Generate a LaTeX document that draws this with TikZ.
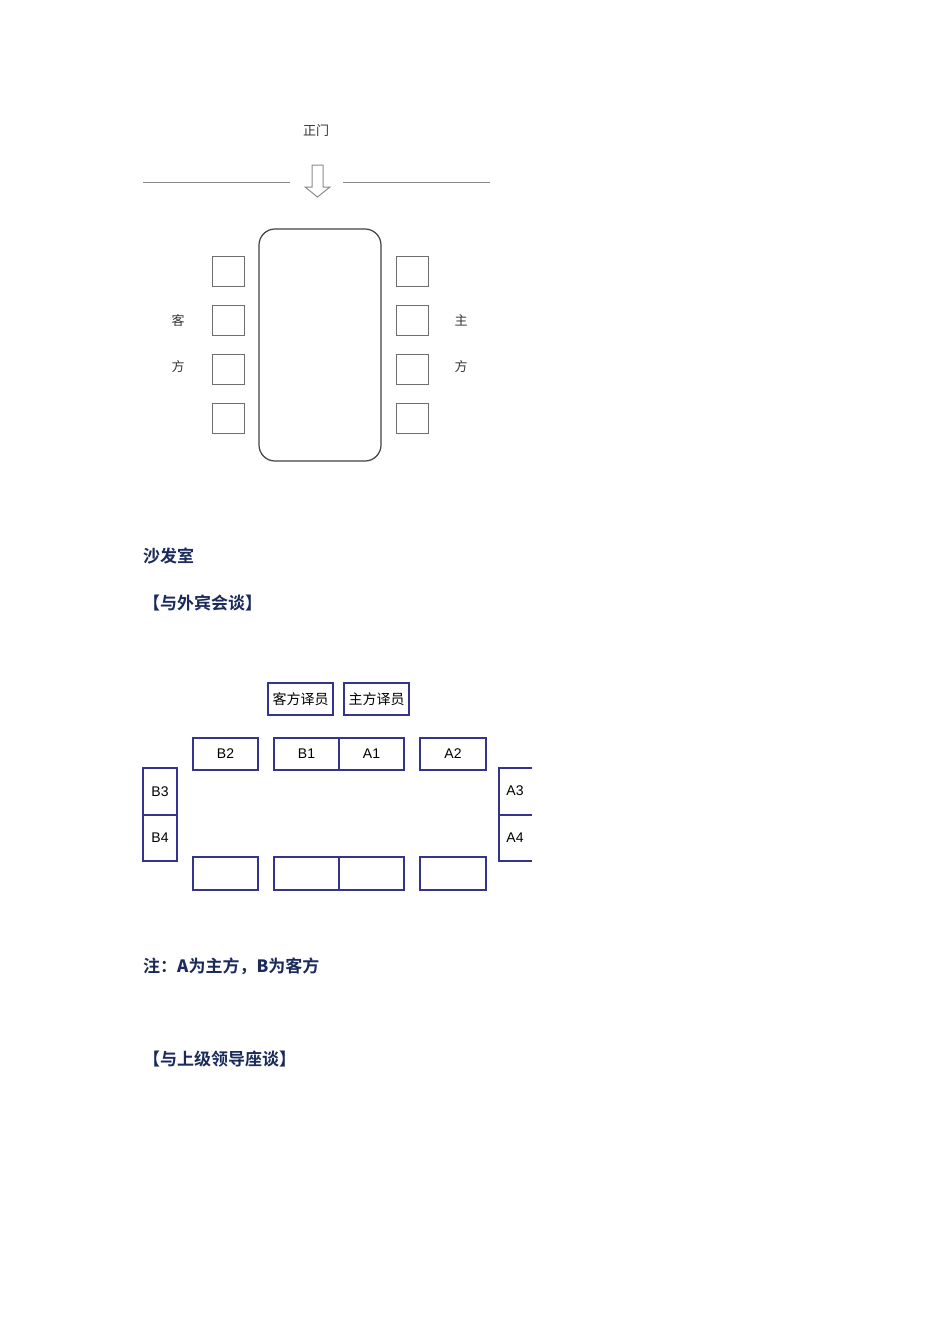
\documentclass[tikz,border=0pt]{standalone}
\usepackage{fontspec}
\setmainfont{Liberation Sans}
\newfontfamily\cjk{Noto Sans CJK SC}
\newfontfamily\cjkb{Noto Sans CJK SC Bold}
\definecolor{navy}{HTML}{1A2A5A}
\definecolor{seat}{HTML}{34348C}
\definecolor{gl}{HTML}{8A8A8A}
\begin{document}
\begin{tikzpicture}[x=1pt,y=-1pt,
  gline/.style={draw=gl,line width=1pt},
  chair/.style={draw=gl!80!black,line width=1pt},
  seatbox/.style={draw=seat,line width=1.2pt},
  seatlbl/.style={font=\fontsize{14}{14}\selectfont},
  small/.style={font=\cjk\fontsize{13}{13}\selectfont,text=black!80},
  hdr/.style={font=\cjkb\fontsize{17}{17}\selectfont,text=navy,anchor=west,inner sep=0}]
\useasboundingbox (0,0) rectangle (950,1344);
% top diagram
\node[small] (door) at (316,131) {正门};
\draw[gline] (143,182) -- (290,182);
\draw[gline] (343,182) -- (490,182);
\draw[gline,fill=white] (312,165) -- (323,165) -- (323,187) -- (330,187) -- (317.5,197) -- (305,187) -- (312,187) -- cycle;
\draw[draw=black!75,line width=1.2pt,rounded corners=16pt] (259,229) rectangle (381,461);
\foreach \y in {256,305,354,403}{
  \draw[chair] (212,\y) rectangle (244,\y+30);
  \draw[chair] (396,\y) rectangle (428,\y+30);
}
\node[small] (k1) at (178,320) {客};
\node[small] (k2) at (178,367) {方};
\node[small] (z1) at (461,320) {主};
\node[small] (z2) at (461,367) {方};
% headers
\node[hdr] (h1) at (143,556) {沙发室};
\node[hdr] (h2) at (143,603) {【与外宾会谈】};
\node[hdr] (h3) at (143,966) {注：\textbf{A}为主方，\textbf{B}为客方};
\node[hdr] (h4) at (143,1059) {【与上级领导座谈】};
% second diagram
\draw[seatbox] (268,683) rectangle (333,715);
\node[font=\cjk\fontsize{14}{14}\selectfont] (t1) at (300.5,699) {客方译员};
\draw[seatbox] (344,683) rectangle (409,715);
\node[font=\cjk\fontsize{14}{14}\selectfont] (t2) at (376.5,699) {主方译员};
\foreach \xa/\xb/\t in {193/258/B2,274/339/B1,339/404/A1,420/486/A2}{
  \draw[seatbox] (\xa,738) rectangle (\xb,770);
  \node[seatlbl] at ({(\xa+\xb)/2},754) {\t};
  \draw[seatbox] (\xa,857) rectangle (\xb,890);
}
\draw[seatbox] (143,768) rectangle (177,815);
\draw[seatbox] (143,815) rectangle (177,861);
\node[seatlbl] at (160,792) {B3};
\node[seatlbl] at (160,838) {B4};
\draw[seatbox] (532,768) -- (499,768) -- (499,861) -- (532,861);
\draw[seatbox] (499,815) -- (532,815);
\node[seatlbl] at (515,791) {A3};
\node[seatlbl] at (515,838) {A4};
\end{tikzpicture}
\end{document}
